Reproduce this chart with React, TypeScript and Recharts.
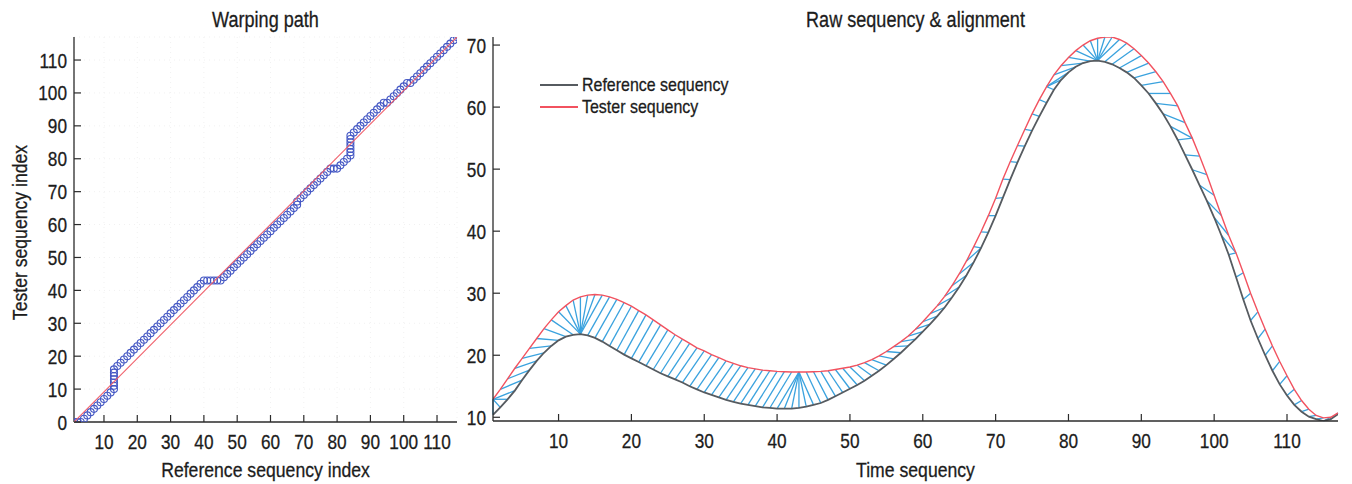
import React from 'react';
import {
  ComposedChart,
  Scatter,
  Line,
  XAxis,
  YAxis,
  CartesianGrid,
  ReferenceLine,
  Legend,
  Label,
} from 'recharts';

const FONT = '"Liberation Sans", Arimo, Arial, sans-serif';
const SX = 0.84; // horizontal condensing of the text
const SX_TICK = 0.82;

// Reference sequence values, time index 1..117
const refSeq = [
  10.4, 11.6, 12.9, 14.3, 16.0, 17.6, 19.1, 20.4, 21.5, 22.4,
  23.0, 23.3, 23.4, 23.2, 22.8, 22.2, 21.5, 20.8, 20.1, 19.5,
  18.9, 18.3, 17.7, 17.1, 16.6, 16.1, 15.6, 15.0, 14.5, 14.0,
  13.6, 13.2, 12.8, 12.5, 12.2, 12.0, 11.8, 11.6, 11.5, 11.4,
  11.4, 11.4, 11.5, 11.7, 12.0, 12.3, 12.8, 13.4, 14.0, 14.6,
  15.2, 15.9, 16.7, 17.5, 18.4, 19.4, 20.4, 21.5, 22.6, 23.8,
  25.0, 26.3, 27.7, 29.3, 31.0, 32.9, 35.0, 37.3, 39.8, 42.5,
  45.4, 48.3, 51.1, 53.7, 56.2, 58.5, 60.7, 62.8, 64.4, 65.6,
  66.5, 67.1, 67.4, 67.5, 67.3, 66.9, 66.3, 65.6, 64.7, 63.5,
  62.2, 60.6, 58.9, 56.9, 54.7, 52.3, 49.9, 47.4, 44.9, 42.2,
  39.3, 36.2, 32.6, 29.0, 25.6, 22.7, 20.0, 17.5, 15.3, 13.5,
  12.0, 10.9, 10.1, 9.7, 9.4, 9.7, 10.5,
];

// Tester sequence values, time index 1..117
const testSeq = [
  12.9, 14.5, 16.2, 17.9, 19.5, 21.1, 22.7, 24.3, 25.7, 27.0,
  28.0, 28.9, 29.4, 29.7, 29.8, 29.7, 29.4, 29.0, 28.5, 27.9,
  27.2, 26.5, 25.7, 24.9, 24.1, 23.3, 22.6, 21.9, 21.2, 20.7,
  20.1, 19.6, 19.1, 18.7, 18.3, 18.0, 17.8, 17.6, 17.5, 17.4,
  17.35, 17.3, 17.3, 17.3, 17.35, 17.4, 17.5, 17.7, 17.9, 18.1,
  18.4, 18.8, 19.3, 19.9, 20.6, 21.4, 22.2, 23.1, 24.2, 25.4,
  26.7, 28.0, 29.5, 31.2, 33.1, 35.2, 37.5, 39.9, 42.5, 45.3,
  48.4, 51.2, 53.8, 56.4, 58.9, 61.2, 63.3, 65.2, 66.7, 68.0,
  69.1, 70.0, 70.7, 71.1, 71.3, 71.3, 70.9, 70.3, 69.4, 68.3,
  67.1, 65.7, 64.1, 62.2, 60.2, 57.5, 55.0, 52.1, 49.1, 45.8,
  42.5, 39.3, 36.5, 33.3, 30.0, 27.0, 24.2, 21.5, 19.0, 16.7,
  14.5, 12.7, 11.3, 10.3, 9.9, 10.0, 10.7,
];

// Warping path: reference index (x) and tester index (y)
const pathRef = [
  1, 2, 3,
  4, 5, 6, 7, 8, 9, 10, 11, 12, 13,
  13, 13, 13, 13, 13, 13,
  14, 15, 16, 17, 18, 19, 20, 21, 22, 23, 24, 25, 26, 27, 28, 29, 30, 31, 32, 33, 34, 35, 36, 37, 38, 39, 40,
  41, 42, 43, 44, 45,
  46, 47, 48, 49, 50, 51, 52, 53, 54, 55, 56, 57, 58, 59, 60, 61, 62, 63, 64, 65, 66, 67, 68,
  68,
  69, 70, 71, 72, 73, 74, 75, 76, 77, 78,
  79, 80,
  81, 82, 83, 84,
  84, 84, 84, 84, 84, 84,
  85, 86, 87, 88, 89, 90, 91, 92, 93, 94,
  95,
  96, 97, 98, 99, 100, 101,
  102,
  103, 104, 105, 106, 107, 108, 109, 110, 111, 112, 113, 114, 115, 116,
];
const pathTest = [
  0, 0, 0,
  1, 2, 3, 4, 5, 6, 7, 8, 9, 10,
  11, 12, 13, 14, 15, 16,
  17, 18, 19, 20, 21, 22, 23, 24, 25, 26, 27, 28, 29, 30, 31, 32, 33, 34, 35, 36, 37, 38, 39, 40, 41, 42, 43,
  43, 43, 43, 43, 43,
  44, 45, 46, 47, 48, 49, 50, 51, 52, 53, 54, 55, 56, 57, 58, 59, 60, 61, 62, 63, 64, 65, 66,
  67,
  68, 69, 70, 71, 72, 73, 74, 75, 76, 77,
  77, 77,
  78, 79, 80, 81,
  82, 83, 84, 85, 86, 87,
  88, 89, 90, 91, 92, 93, 94, 95, 96, 97,
  97,
  98, 99, 100, 101, 102, 103,
  103,
  104, 105, 106, 107, 108, 109, 110, 111, 112, 113, 114, 115, 116, 117,
];

const diagX = [1, 116];
const diagY = [0, 117];

const warpXTicks = [10, 20, 30, 40, 50, 60, 70, 80, 90, 100, 110];
const warpYTicks = [0, 10, 20, 30, 40, 50, 60, 70, 80, 90, 100, 110];
const timeTicks = [10, 20, 30, 40, 50, 60, 70, 80, 90, 100, 110];
const valueTicks = [10, 20, 30, 40, 50, 60, 70];

const warpPoints = pathRef.map((x, k) => ({ x, y: pathTest[k] }));
const diagPoints = diagX.map((x, k) => ({ x, y: diagY[k] }));
const seqData = refSeq.map((v, k) => ({ t: k + 1, ref: v, test: testSeq[k] }));
const segments = pathRef.map((i, k) => {
  const j = Math.max(pathTest[k], 1);
  return { x1: i, y1: refSeq[i - 1], x2: j, y2: testSeq[j - 1] };
});

const AXIS = '#2b2b2b';
const TEXT = '#1c1c1c';
const TICK_FS = 21;

const CText = (p: { x: number; y: number; anchor: string; size: number; children: any; rotate?: boolean; sx?: number }) => (
  <text
    transform={`translate(${p.x} ${p.y})${p.rotate ? ' rotate(-90)' : ''} scale(${p.sx ?? SX} 1)`}
    x={0}
    y={0}
    textAnchor={p.anchor as any}
    fontSize={p.size}
    fontFamily={FONT}
    fill={TEXT}
    stroke={TEXT}
    strokeWidth={0.3}
  >
    {p.children}
  </text>
);

const BottomTick = (props: any) => {
  const { x, y, payload } = props;
  return (
    <g>
      <line x1={x} x2={x} y1={y} y2={y - 7} stroke={AXIS} strokeWidth={1.2} />
      <CText x={x} y={y + 27.3} anchor="middle" size={TICK_FS} sx={SX_TICK}>
        {payload.value}
      </CText>
    </g>
  );
};

const LeftTick = (props: any) => {
  const { x, y, payload } = props;
  return (
    <g>
      <line x1={x} x2={x + 7} y1={y} y2={y} stroke={AXIS} strokeWidth={1.2} />
      <CText x={x - 7} y={y + 7.5} anchor="end" size={TICK_FS} sx={SX_TICK}>
        {payload.value}
      </CText>
    </g>
  );
};

const bottomLabel = (text: string) => (props: any) => {
  const { viewBox } = props;
  const cx = viewBox.x + viewBox.width / 2;
  return (
    <CText x={cx} y={477} anchor="middle" size={21}>
      {text}
    </CText>
  );
};

const leftLabel = (text: string) => (props: any) => {
  const { viewBox } = props;
  const cy = viewBox.y + viewBox.height / 2 + 3;
  return (
    <CText x={27} y={cy} anchor="middle" size={21} rotate>
      {text}
    </CText>
  );
};

const CircleShape = (props: any) => (
  <circle cx={props.cx} cy={props.cy} r={3.5} fill="none" stroke="#4558c4" strokeWidth={1.1} />
);
const NoShape = () => <g />;

const renderLegend = (props: any) => (
  <div style={{ fontFamily: FONT, fontSize: 19, color: TEXT, WebkitTextStroke: '0.3px #1c1c1c' } as any}>
    {(props.payload || []).map((e: any) => (
      <div key={e.value} style={{ display: 'flex', alignItems: 'center', height: 22 }}>
        <span
          style={{
            display: 'inline-block',
            width: 38,
            height: 0,
            borderTop: `2px solid ${e.color}`,
            marginRight: 4,
          }}
        />
        <span style={{ display: 'inline-block', transform: `scaleX(${SX})`, transformOrigin: 'left center', whiteSpace: 'nowrap' }}>
          {e.value}
        </span>
      </div>
    ))}
  </div>
);

const titleStyle: React.CSSProperties = {
  position: 'absolute',
  top: 8,
  fontFamily: FONT,
  fontSize: 21.5,
  lineHeight: '24px',
  textAlign: 'center',
  color: TEXT,
  transform: `scaleX(${SX})`,
  transformOrigin: 'center',
  whiteSpace: 'nowrap',
  WebkitTextStroke: '0.3px #1c1c1c',
} as any;

export default function App() {
  return (
    <div style={{ position: 'absolute', left: 0, top: 0, width: 1352, height: 484, background: '#fff', fontFamily: FONT }}>
      <div style={{ ...titleStyle, left: 74, width: 383 }}>Warping path</div>
      <div style={{ ...titleStyle, left: 493, width: 845 }}>Raw sequency &amp; alignment</div>

      <div style={{ position: 'absolute', left: 0, top: 0 }}>
        <ComposedChart width={470} height={484} margin={{ top: 37, right: 13, bottom: 0, left: 0 }}>
          <CartesianGrid stroke="#f1f1f1" strokeDasharray="1 4" />
          <XAxis
            type="number"
            dataKey="x"
            domain={[1, 116]}
            allowDataOverflow
            ticks={warpXTicks}
            height={62}
            stroke={AXIS}
            strokeWidth={1.3}
            tickLine={false}
            tickSize={0}
            tickMargin={0}
            tick={<BottomTick />}
            interval={0}
          >
            <Label content={bottomLabel('Reference sequency index')} />
          </XAxis>
          <YAxis
            type="number"
            dataKey="y"
            domain={[0, 117]}
            allowDataOverflow
            ticks={warpYTicks}
            width={74}
            stroke={AXIS}
            strokeWidth={1.3}
            tickLine={false}
            tickSize={0}
            tickMargin={0}
            tick={<LeftTick />}
            interval={0}
          >
            <Label content={leftLabel('Tester sequency index')} />
          </YAxis>
          <Scatter data={warpPoints} shape={<CircleShape />} isAnimationActive={false} />
          <Scatter
            data={diagPoints}
            line={{ stroke: '#f0606c', strokeWidth: 1.1 }}
            shape={<NoShape />}
            isAnimationActive={false}
          />
        </ComposedChart>
      </div>

      <div style={{ position: 'absolute', left: 462, top: 0 }}>
        <ComposedChart width={890} height={484} data={seqData} margin={{ top: 37, right: 14, bottom: 0, left: 0 }}>
          <XAxis
            type="number"
            dataKey="t"
            domain={[1, 117]}
            allowDataOverflow
            ticks={timeTicks}
            height={63}
            stroke={AXIS}
            strokeWidth={1.3}
            tickLine={false}
            tickSize={0}
            tickMargin={0}
            tick={<BottomTick />}
            interval={0}
          >
            <Label content={bottomLabel('Time sequency')} />
          </XAxis>
          <YAxis
            type="number"
            domain={[9.4, 71.3]}
            allowDataOverflow
            ticks={valueTicks}
            width={31}
            stroke={AXIS}
            strokeWidth={1.3}
            tickLine={false}
            tickSize={0}
            tickMargin={0}
            tick={<LeftTick />}
            interval={0}
          />
          {segments.map((s, k) => (
            <ReferenceLine
              key={k}
              segment={[{ x: s.x1, y: s.y1 }, { x: s.x2, y: s.y2 }]}
              stroke="#3aa2de"
              strokeWidth={1.3}
              ifOverflow="visible"
            />
          ))}
          <Line
            type="linear"
            dataKey="ref"
            name="Reference sequency"
            stroke="#565b60"
            strokeWidth={1.8}
            dot={false}
            activeDot={false}
            isAnimationActive={false}
          />
          <Line
            type="linear"
            dataKey="test"
            name="Tester sequency"
            stroke="#f2525f"
            strokeWidth={1.4}
            dot={false}
            activeDot={false}
            isAnimationActive={false}
          />
          <Legend
            layout="vertical"
            align="center"
            verticalAlign="middle"
            content={renderLegend}
            wrapperStyle={{ left: 78, top: 74, width: 'auto', height: 'auto' }}
          />
        </ComposedChart>
      </div>
    </div>
  );
}
